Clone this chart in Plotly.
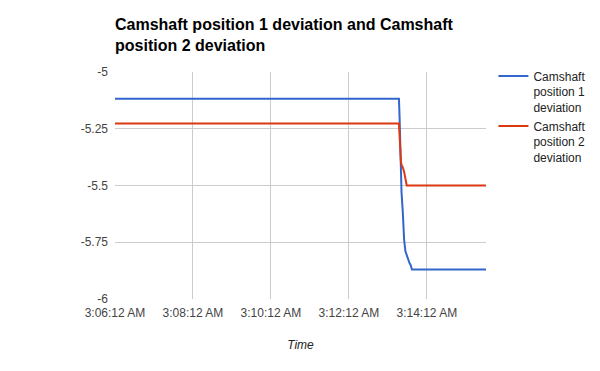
import plotly.graph_objects as go

# Data
times = ["03:06:12", "03:13:29", "03:13:30", "03:13:31", "03:13:32", "03:13:33",
         "03:13:35", "03:13:37", "03:13:39", "03:13:41", "03:13:43", "03:13:45",
         "03:13:47", "03:13:49", "03:15:43"]
cam1 = [-5.118, -5.118, -5.20, -5.35, -5.46, -5.53, -5.62, -5.74, -5.79, -5.81,
        -5.83, -5.84, -5.85, -5.87, -5.87]
cam2 = [-5.227, -5.227, -5.28, -5.36, -5.39, -5.41, -5.42, -5.44, -5.465, -5.50,
        -5.50, -5.50, -5.50, -5.50, -5.50]
series_names = ["Camshaft<br>position 1<br>deviation", "Camshaft<br>position 2<br>deviation"]
y_ticks = [-5, -5.25, -5.5, -5.75, -6]
y_tick_text = ["-5", "-5.25", "-5.5", "-5.75", "-6"]
title = "Camshaft position 1 deviation and Camshaft<br>position 2 deviation"
x_title = "Time"

day = "2024-01-01 "
x = [day + t for t in times]

fig = go.Figure()
fig.add_trace(go.Scatter(x=x, y=cam1, mode="lines", name=series_names[0],
                         line=dict(color="#3366cc", width=2)))
fig.add_trace(go.Scatter(x=x, y=cam2, mode="lines", name=series_names[1],
                         line=dict(color="#dc3912", width=2)))

font = "Arial, Liberation Sans, sans-serif"
fig.update_layout(
    width=600, height=371,
    margin=dict(l=115, r=114, t=72, b=72, autoexpand=False),
    paper_bgcolor="white", plot_bgcolor="white",
    font=dict(family=font, size=12, color="#222"),
    title=dict(text="<b>" + title + "</b>", x=115/600, xanchor="left",
               y=1 - 30/371, yanchor="bottom",
               font=dict(family=font, size=16, color="#000")),
    showlegend=True,
    legend=dict(x=1.02, xanchor="left", y=1.045, yanchor="top",
                font=dict(family=font, size=12, color="#222"),
                valign="top", itemwidth=30),
    xaxis=dict(
        type="date",
        range=[day + "03:06:12", day + "03:15:43"],
        tick0=day + "03:06:12", dtick=120000,
        tickformat="%-I:%M:%S %p",
        showgrid=True, gridcolor="#cccccc", gridwidth=1,
        zeroline=False, showline=False, ticks="",
        ticklabelstandoff=5,
        tickfont=dict(family=font, size=12, color="#444"),
        title=dict(text="<i>" + x_title + "</i>", standoff=21,
                   font=dict(family=font, size=12, color="#222")),
    ),
    yaxis=dict(
        range=[-6, -5],
        tickvals=y_ticks, ticktext=y_tick_text,
        showgrid=True, gridcolor="#cccccc", gridwidth=1,
        zeroline=False, showline=False, ticks="",
        tickfont=dict(family=font, size=12, color="#444"),
        ticklabelstandoff=6,
    ),
)

fig.write_html("out.html", config={"displayModeBar": False},
               post_script="document.body.style.margin='0';document.body.style.padding='0';")
